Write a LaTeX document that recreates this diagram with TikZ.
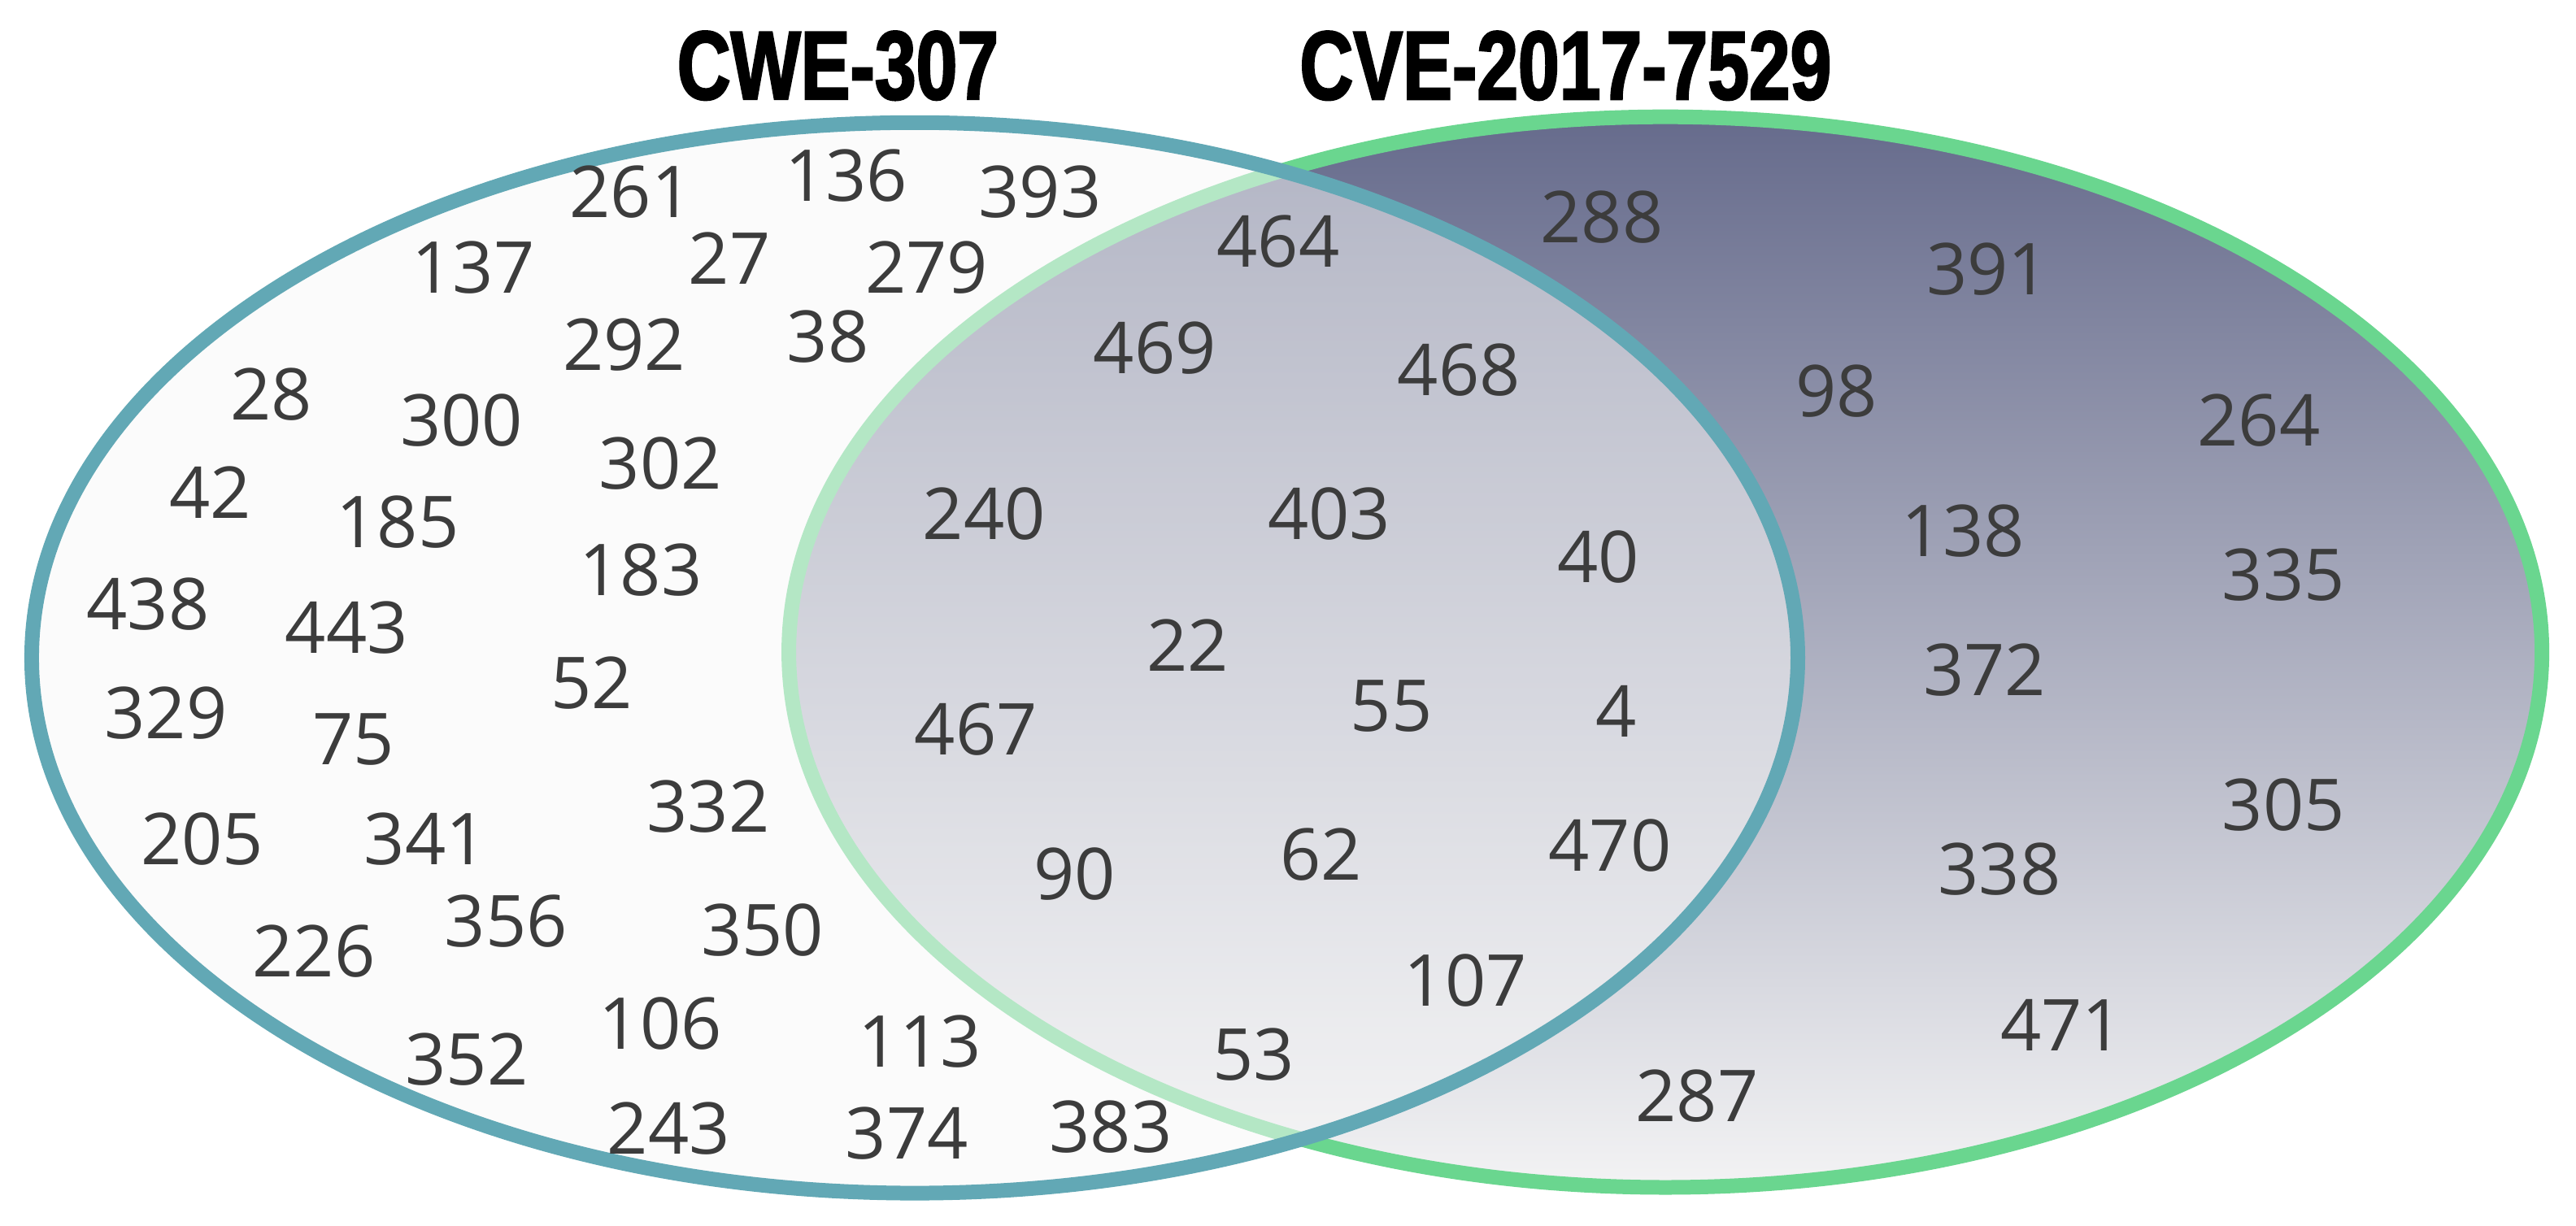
\documentclass[tikz,border=0pt]{standalone}
\usepackage{fontspec}
\setmainfont{Open Sans}
\newfontfamily\titlefont[FakeStretch=0.76,FakeBold=2]{Liberation Sans}
\definecolor{numgray}{HTML}{3C3C3C}
\definecolor{cweblue}{HTML}{62A8B5}
\definecolor{cvegreen}{HTML}{6AD68F}
\definecolor{slatetop}{HTML}{666B8C}
\definecolor{slatebot}{HTML}{F3F3F4}
\definecolor{leftfill}{HTML}{F8F8F8}
\begin{document}
\begin{tikzpicture}[x=0.5051pt,y=-0.5051pt,
  num/.style={text=numgray, font=\fontsize{22}{22}\selectfont, inner sep=0pt},
  ttl/.style={text=black, font=\titlefont\bfseries\fontsize{30}{30}\selectfont, inner sep=0pt},
  setline/.style={line width=4.5pt}]
\useasboundingbox (0,0) rectangle (1568,746);
\fill[white] (0,0) rectangle (1568,746);
% CVE-2017-7529 set
\shade[top color=slatetop, bottom color=slatebot] (1013.7,397) ellipse [x radius=269.5pt, y radius=164.6pt];
\draw[cvegreen, setline] (1013.7,397) ellipse [x radius=269.5pt, y radius=164.6pt];
% CWE-307 set
\fill[leftfill, fill opacity=0.52] (556.8,400.5) ellipse [x radius=271.5pt, y radius=164.6pt];
\draw[cweblue, setline] (556.8,400.5) ellipse [x radius=271.5pt, y radius=164.6pt];
% titles
\node[ttl] (tcwe) at (510,40) {CWE-307};
\node[ttl] (tcve) at (953,40) {CVE-2017-7529};
% left only
\node[num] (n261) at (384,117) {261};
\node[num] (n136) at (515,107) {136};
\node[num] (n393) at (633,117) {393};
\node[num] (n137) at (288,163) {137};
\node[num] (n27) at (444,157) {27};
\node[num] (n279) at (564,163) {279};
\node[num] (n292) at (380,210) {292};
\node[num] (n38) at (504,205) {38};
\node[num] (n28) at (165,240) {28};
\node[num] (n300) at (281,256) {300};
\node[num] (n302) at (402,282) {302};
\node[num] (n42) at (128,300) {42};
\node[num] (n185) at (242,318) {185};
\node[num] (n183) at (390,347) {183};
\node[num] (n438) at (90,368) {438};
\node[num] (n443) at (211,382) {443};
\node[num] (n52) at (360,416) {52};
\node[num] (n329) at (101,434) {329};
\node[num] (n75) at (215,450) {75};
\node[num] (n332) at (431,491) {332};
\node[num] (n205) at (123,511) {205};
\node[num] (n341) at (259,511) {341};
\node[num] (n226) at (191,579) {226};
\node[num] (n356) at (308,561) {356};
\node[num] (n350) at (464,566) {350};
\node[num] (n106) at (402,623) {106};
\node[num] (n113) at (560,634) {113};
\node[num] (n352) at (284,645) {352};
\node[num] (n243) at (407,687) {243};
\node[num] (n374) at (552,690) {374};
\node[num] (n383) at (676,686) {383};
% overlap
\node[num] (n464) at (778,147) {464};
\node[num] (n469) at (703,212) {469};
\node[num] (n468) at (888,225) {468};
\node[num] (n240) at (599,313) {240};
\node[num] (n403) at (809,313) {403};
\node[num] (n40) at (973,339) {40};
\node[num] (n22) at (723,393) {22};
\node[num] (n55) at (847,430) {55};
\node[num] (n4) at (984,433) {4};
\node[num] (n467) at (594,444) {467};
\node[num] (n90) at (654,532) {90};
\node[num] (n62) at (804,520) {62};
\node[num] (n470) at (980,515) {470};
\node[num] (n107) at (892,597) {107};
\node[num] (n53) at (763,642) {53};
% right only
\node[num] (n288) at (975,132) {288};
\node[num] (n391) at (1210,164) {391};
\node[num] (n98) at (1118,238) {98};
\node[num] (n264) at (1375,256) {264};
\node[num] (n138) at (1195,323) {138};
\node[num] (n335) at (1390,350) {335};
\node[num] (n372) at (1208,408) {372};
\node[num] (n305) at (1390,490) {305};
\node[num] (n338) at (1217,529) {338};
\node[num] (n471) at (1255,624) {471};
\node[num] (n287) at (1033,667) {287};
\end{tikzpicture}
\end{document}
